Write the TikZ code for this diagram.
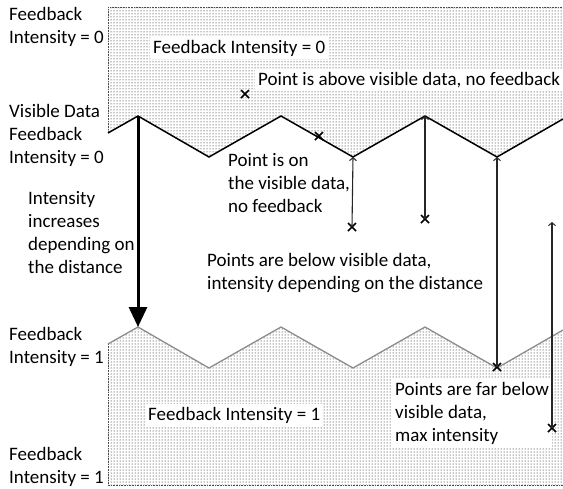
\documentclass[tikz,border=0pt]{standalone}
\usepackage{fontspec}
\setmainfont{Carlito}
\usetikzlibrary{patterns,arrows.meta}
\begin{document}
\begin{tikzpicture}[x=1pt,y=-1pt,
  lbl/.style={anchor=base west,align=left,inner sep=0pt,
    font=\fontsize{19}{23}\selectfont},
  boxlbl/.style={lbl,fill=white,inner sep=3pt},
  dotfill/.style={pattern=dots,pattern color=black},
  edge/.style={black!70,line width=0.7pt,dash pattern=on 0.8pt off 0.8pt},
  probe/.style={line width=1.1pt,black!85,-{Straight Barb[length=3pt,width=7pt,line width=1pt]}},
  bigarrow/.style={line width=3pt,-{Triangle[length=20pt,width=18pt]}},
  xmark/.style={line width=1.6pt}]
\useasboundingbox (0,0) rectangle (563,488);

% points of the visible data line and the maximum-intensity line
\foreach \n/\x/\y in {a0/108/133,a1/138/116,a2/209/157,a3/281/116,a4/353/157,a5/425/116,a6/497/157,a7/563/119}
  \coordinate (\n) at (\x,\y);
\foreach \n/\x/\y in {b0/108/344,b1/138/327,b2/209/368,b3/281/327,b4/353/368,b5/425/327,b6/497/368,b7/563/330}
  \coordinate (\n) at (\x,\y);

% shaded zones
\fill[dotfill] (108,7) -- (563,7) -- (a7) -- (a6) -- (a5) -- (a4) -- (a3) -- (a2) -- (a1) -- (a0) -- cycle;
\fill[dotfill] (b0) -- (b1) -- (b2) -- (b3) -- (b4) -- (b5) -- (b6) -- (b7) -- (563,485) -- (108,485) -- cycle;
\draw[edge] (a0) -- (108,7) -- (563,7);
\draw[edge] (b0) -- (108,485) -- (563,485);

% visible data line and maximum-intensity line
\draw[line width=1.5pt,line join=miter] (a0) -- (a1) -- (a2) -- (a3) -- (a4) -- (a5) -- (a6) -- (a7);
\draw[line width=1.3pt,black!45,line join=miter] (b0) -- (b1) -- (b2) -- (b3) -- (b4) -- (b5) -- (b6) -- (b7);

% labels on the left (anchored at the baseline of their last line)
\node[lbl] (l1) at (9,43) {Feedback\\Intensity = 0};
\node[lbl] (l2) at (9,163) {Visible Data\\Feedback\\Intensity = 0};
\node[lbl] (l3) at (28,273) {Intensity\\increases\\depending on\\the distance};
\node[lbl] (l4) at (9,363) {Feedback\\Intensity = 1};
\node[lbl] (l5) at (9,483) {Feedback\\Intensity = 1};

% labels inside the picture
\node[boxlbl] (t1) at (150,53) {Feedback Intensity = 0};
\node[boxlbl] (t2) at (255,85) {Point is above visible data, no feedback};
\node[lbl] (t3) at (228,212) {Point is on\\the visible data,\\no feedback};
\node[lbl] (t4) at (207,289) {Points are below visible data,\\intensity depending on the distance};
\node[boxlbl] (t5) at (145,420) {Feedback Intensity = 1};
\node[boxlbl] (t6) at (392,441) {Points are far below\\visible data,\\max intensity};

% sample points
\foreach \n/\x/\y in {p0/245/94,p1/319/136,p2/352/227,p3/425/219,p4/497/367,p5/552/428}{
  \coordinate (\n) at (\x,\y);
  \draw[xmark] ([shift={(-4,-4)}]\n) -- ([shift={(4,4)}]\n) ([shift={(-4,4)}]\n) -- ([shift={(4,-4)}]\n);
}
\coordinate (p5top) at (552,222);

% distance arrows
\draw[probe] (p2) -- (a4);
\draw[probe] (p3) -- (a5);
\draw[probe] (p4) -- (a6);
\draw[probe] (p5) -- (p5top);
\draw[bigarrow] (a1) -- (b1);
\end{tikzpicture}
\end{document}
